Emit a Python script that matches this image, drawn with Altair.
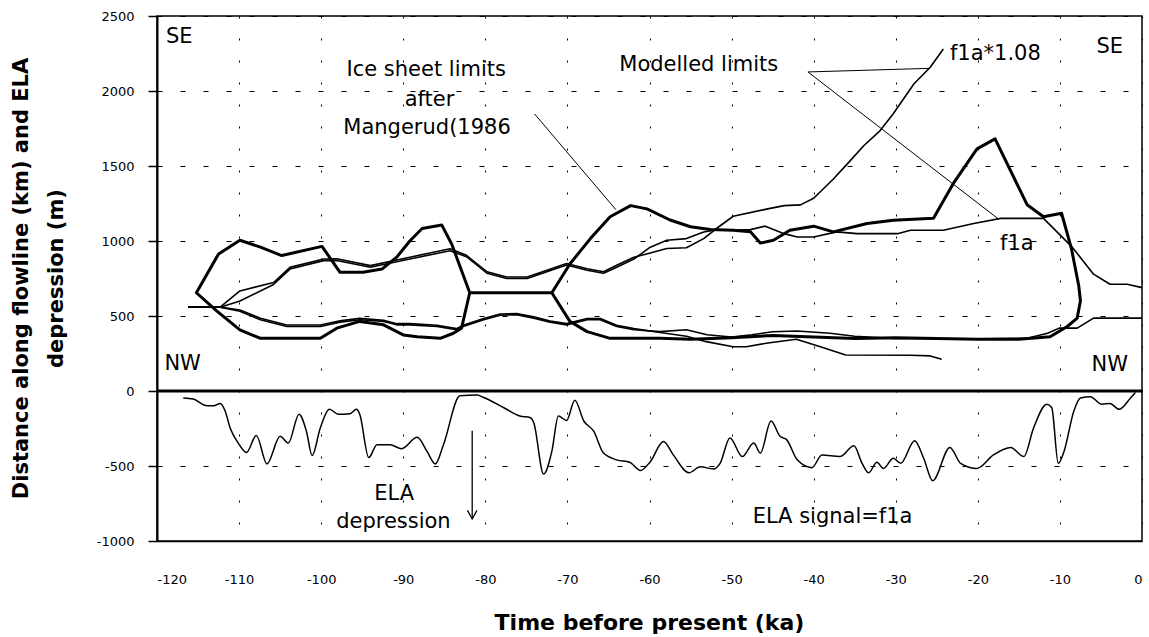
import altair as alt
import pandas as pd

# ---------------- data ----------------
x_ticks = [-120, -110, -100, -90, -80, -70, -60, -50, -40, -30, -20, -10, 0]
y_ticks = [-1000, -500, 0, 500, 1000, 1500, 2000, 2500]

# ELA depression signal (f1a)
ela_t = [-116.8, -115.6, -113.9, -113.1, -112.3, -111.7, -111.1, -110.1, -109.1, -107.9,
         -106.6, -105.0, -104.0, -102.7, -101.8, -101.1, -100.1, -99.0, -97.9, -96.5,
         -95.7, -95.3, -94.2, -93.2, -91.6, -90.2, -88.3, -87.1, -86.1, -85.1,
         -83.1, -81.0, -80.2, -77.8, -75.8, -74.5, -74.1, -72.9, -71.9, -71.1,
         -70.1, -69.1, -68.0, -66.8, -65.6, -64.0, -62.4, -61.1, -59.9, -58.3,
         -57.1, -55.2, -53.8, -52.2, -51.4, -50.2, -48.7, -47.3, -46.5, -45.2,
         -44.1, -43.3, -42.0, -40.2, -39.0, -36.8, -35.1, -34.1, -33.3, -32.3,
         -31.5, -30.3, -29.4, -27.7, -26.6, -25.5, -23.4, -22.1, -20.1, -18.1,
         -16.0, -14.4, -13.2, -11.6, -11.0, -10.2, -9.5, -8.3, -7.5, -6.3,
         -4.9, -3.9, -2.8, -1.4, -0.8]
ela_v = [-47, -54, -99, -99, -83, -133, -245, -347, -410, -297,
         -486, -302, -347, -155, -268, -430, -245, -122, -155, -151,
         -122, -155, -444, -358, -358, -385, -309, -403, -486, -358,
         -32, -27, -43, -110, -167, -178, -212, -554, -403, -167,
         -196, -61, -200, -268, -414, -459, -475, -530, -471, -336,
         -426, -545, -505, -520, -482, -313, -437, -347, -414, -200,
         -302, -324, -459, -511, -426, -437, -365, -482, -545, -475,
         -516, -448, -482, -331, -448, -598, -376, -482, -516, -426,
         -376, -437, -245, -88, -110, -482, -403, -133, -47, -38,
         -88, -83, -122, -47, -10]

# Ice sheet limits after Mangerud (1986): one closed outline (SE and NW limits)
mang_t = [-81.9, -82.9, -83.9, -85.5, -88.3, -90.0, -92.4, -95.3, -98.1, -100.1,
          -107.4, -109.9, -112.7, -115.2,
          -112.5, -109.9, -107.4, -104.8, -99.9, -97.7, -94.9, -92.6, -90.8, -89.2,
          -87.7, -85.3, -84.1, -81.9,
          -71.9, -69.7, -67.2, -64.8, -62.3, -60.3, -57.5, -55.0, -52.6, -49.8,
          -47.7, -46.5, -44.9, -42.9, -40.0, -37.6, -33.5, -30.3, -25.4, -22.9,
          -20.1, -17.9, -14.0, -12.0, -9.8, -8.6, -7.7, -7.5, -7.9, -9.1, -11.2,
          -15.0, -20.0, -25.0, -30.0, -35.0, -40.0, -45.0, -50.0, -55.0, -58.7,
          -64.8, -67.6, -69.7, -71.9]
mang_v = [655, 419, 385, 351, 362, 374, 441, 464, 419, 351,
          351, 408, 532, 655,
          914, 1005, 959, 903, 964, 791, 791, 813, 892, 1000,
          1083, 1106, 980, 655,
          655, 847, 1016, 1162, 1236, 1214, 1140, 1095, 1076, 1072,
          1061, 986, 1005, 1072, 1099, 1061, 1117, 1139, 1151, 1391,
          1614, 1681, 1242, 1162, 1185, 950, 700, 600, 486, 430, 362,
          345, 345, 350, 355, 350, 360, 370, 355, 345, 351,
          351, 396, 464, 655]

# Modelled limits, run f1a
f1a_up_t = [-116.2, -112.3, -109.9, -105.8, -103.8, -99.7, -98.1, -94.0, -89.2, -84.3,
            -82.3, -79.8, -77.4, -74.9, -72.5, -70.1, -67.6, -65.6, -64.0, -61.9,
            -59.9, -57.9, -55.5, -53.4, -51.8, -49.8, -47.7, -45.9, -43.6, -42.0,
            -40.0, -37.2, -34.7, -29.8, -28.2, -24.2, -20.5, -17.2, -12.0, -8.5,
            -5.9, -3.9, -1.8, 0.0]
f1a_up_v = [559, 559, 600, 710, 813, 869, 870, 825, 880, 935,
            895, 785, 750, 750, 795, 840, 805, 785, 825, 880,
            959, 1005, 1016, 1060, 1075, 1072, 1076, 1099, 1049, 1027,
            1027, 1061, 1049, 1049, 1072, 1072, 1117, 1151, 1151, 959,
            779, 712, 712, 689]
f1a_lo_t = [-116.2, -112.3, -109.9, -107.4, -104.2, -100.1, -97.7, -95.3, -92.4, -90.8,
            -89.2, -85.9, -83.5, -82.7, -80.2, -78.2, -76.2, -74.1, -72.1, -70.1,
            -67.6, -66.0, -64.0, -61.9, -58.7, -55.5, -53.0, -50.0, -47.5, -45.0,
            -42.0, -38.0, -35.0, -30.0, -20.0, -14.0, -11.5, -10.1, -7.9, -5.9, 0.0]
f1a_lo_v = [559, 559, 532, 475, 430, 430, 459, 475, 464, 441,
            441, 430, 408, 430, 475, 505, 509, 486, 459, 441,
            475, 475, 430, 408, 396, 408, 375, 360, 375, 395,
            400, 385, 365, 350, 348, 352, 385, 419, 419, 486, 486]

# Modelled limits, run f1a*1.08
f108_up_t = [-116.2, -112.3, -109.9, -105.8, -103.8, -99.7, -98.1, -94.0, -89.2, -84.3,
             -82.3, -79.8, -77.4, -74.9, -72.5, -70.1, -67.6, -65.6, -64.0, -61.9,
             -59.9, -57.9, -55.5, -53.4, -51.8, -49.8, -45.6, -43.6, -41.6, -40.0,
             -37.6, -35.9, -33.9, -31.9, -30.3, -27.8, -25.8, -24.2]
f108_up_v = [559, 559, 667, 723, 824, 880, 882, 836, 892, 948,
             905, 795, 760, 760, 805, 850, 815, 795, 838, 892,
             920, 950, 955, 1016, 1085, 1165, 1214, 1236, 1241, 1285,
             1413, 1514, 1635, 1736, 1848, 2047, 2158, 2280]
f108_lo_t = [-116.2, -112.3, -109.9, -107.4, -104.2, -100.1, -97.7, -95.3, -92.4, -90.8,
             -89.2, -85.9, -83.5, -82.7, -80.2, -78.2, -76.2, -74.1, -72.1, -70.1,
             -67.6, -66.0, -64.0, -61.9, -58.7, -55.5, -53.1, -49.8, -48.2, -45.8,
             -42.1, -38.9, -36.1, -28.2, -25.8, -24.4]
f108_lo_v = [559, 559, 540, 485, 440, 440, 468, 484, 472, 449,
             449, 438, 416, 438, 483, 513, 517, 494, 467, 449,
             483, 483, 438, 416, 390, 365, 329, 295, 295, 318,
             345, 290, 240, 238, 234, 211]

# Annotation texts
lab_left_text = ["SE", "NW", "f1a*1.08", "f1a"]
lab_left_t = [-118.9, -119.1, -23.4, -17.3]
lab_left_v = [2357, 183, 2247, 980]
lab_right_text = ["SE", "NW"]
lab_right_t = [-2.3, -1.7]
lab_right_v = [2295, 173]
lab_center_text = ["Ice sheet limits", "after", "Mangerud(1986", "Modelled limits",
                   "ELA", "depression", "ELA signal=f1a"]
lab_center_t = [-87.2, -86.8, -87.1, -54.0, -91.1, -91.2, -37.7]
lab_center_v = [2140, 1940, 1753, 2173, -687, -873, -840]

# Leader lines (segment id, t, v)
lead_id = ["m", "m", "a", "a", "b", "b"]
lead_t = [-74.0, -64.1, -40.7, -25.9, -40.7, -17.5]
lead_v = [1847, 1209, 2127, 2151, 2127, 1147]

# ELA depression arrow
arrow_t = [-81.6, -81.6]
arrow_v = [-265, -853]

FONT = "DejaVu Sans"


def frame(ts, vs, name="s"):
    return pd.DataFrame({"t": ts, "v": vs, "i": list(range(len(ts))), "s": name})


X = alt.X("t:Q",
          scale=alt.Scale(domain=[-120, 0], nice=False, zero=False),
          axis=alt.Axis(values=x_ticks, title="Time before present (ka)",
                        labelExpr="'' + datum.value", ticks=False, labelPadding=32,
                        labelFontSize=13, labelFont=FONT, labelColor="black",
                        grid=True, gridDash=[2, 20], gridColor="black", gridWidth=1,
                        domain=True, domainColor="black", domainWidth=1.5,
                        titleFont=FONT, titleFontSize=22, titleFontWeight="bold",
                        titleColor="black", titleX=492, titleY=81,
                        titleAlign="center", titleBaseline="middle"))
Y = alt.Y("v:Q",
          scale=alt.Scale(domain=[-1000, 2500], nice=False, zero=False),
          axis=alt.Axis(values=y_ticks,
                        title=["Distance along flowline (km) and ELA", "depression (m)"],
                        labelExpr="'' + datum.value", ticks=True, tickSize=9,
                        tickColor="black", tickWidth=1.5, labelPadding=14,
                        labelFontSize=13, labelFont=FONT, labelColor="black",
                        grid=True, gridDash=[5, 18], gridColor="black", gridWidth=1.2,
                        domain=True, domainColor="black", domainWidth=2,
                        titleFont=FONT, titleFontSize=21, titleFontWeight="bold",
                        titleColor="black", titleAngle=270, titleX=-147, titleY=262,
                        titleAlign="center", titleBaseline="top", titleLineHeight=35))

layers = []

# zero line
zero = alt.Chart(pd.DataFrame({"v": [0]})).mark_rule(color="black", strokeWidth=3).encode(y=Y)
layers.append(zero)

# model lines
for ts, vs, nm in [(f1a_up_t, f1a_up_v, "f1a_up"), (f1a_lo_t, f1a_lo_v, "f1a_lo"),
                   (f108_up_t, f108_up_v, "f108_up"), (f108_lo_t, f108_lo_v, "f108_lo")]:
    layers.append(alt.Chart(frame(ts, vs, nm)).mark_line(
        color="black", strokeWidth=1.6, strokeJoin="round").encode(
        x=X, y=Y, order=alt.Order("i:Q")))

# Mangerud outline
layers.append(alt.Chart(frame(mang_t, mang_v, "mang")).mark_line(
    color="black", strokeWidth=3, strokeJoin="round").encode(
    x=X, y=Y, order=alt.Order("i:Q")))

# ELA signal
layers.append(alt.Chart(frame(ela_t, ela_v, "ela")).mark_line(
    color="black", strokeWidth=1.5, interpolate="monotone").encode(
    x=X, y=Y, order=alt.Order("i:Q")))

# leaders
lead_df = pd.DataFrame({"t": lead_t, "v": lead_v, "s": lead_id,
                        "i": list(range(len(lead_t)))})
layers.append(alt.Chart(lead_df).mark_line(color="black", strokeWidth=1).encode(
    x=X, y=Y, detail="s:N", order=alt.Order("i:Q")))

# arrow
layers.append(alt.Chart(frame(arrow_t, arrow_v, "arrow")).mark_line(
    color="black", strokeWidth=1.3).encode(x=X, y=Y, order=alt.Order("i:Q")))
layers.append(alt.Chart(frame(arrow_t[1:], arrow_v[1:], "head")).mark_point(
    shape="M -1 -1.8 L 0 0 L 1 -1.8", filled=False, size=90, color="black",
    strokeWidth=1.3, opacity=1).encode(x=X, y=Y))

# texts
for texts, ts, vs, al in [(lab_left_text, lab_left_t, lab_left_v, "left"),
                          (lab_right_text, lab_right_t, lab_right_v, "right"),
                          (lab_center_text, lab_center_t, lab_center_v, "center")]:
    df = pd.DataFrame({"t": ts, "v": vs, "label": texts})
    layers.append(alt.Chart(df).mark_text(
        font=FONT, fontSize=21, align=al, baseline="middle", color="black").encode(
        x=X, y=Y, text="label:N"))

chart = alt.layer(*layers).properties(
    width=985, height=525,
    padding={"left": 157, "top": 16, "right": 7, "bottom": 96},
    autosize=alt.AutoSizeParams(type="none"),
    background="white",
).configure_view(stroke="black", strokeWidth=1.5)

chart.save("out.html", embed_options={"renderer": "svg", "actions": False})
